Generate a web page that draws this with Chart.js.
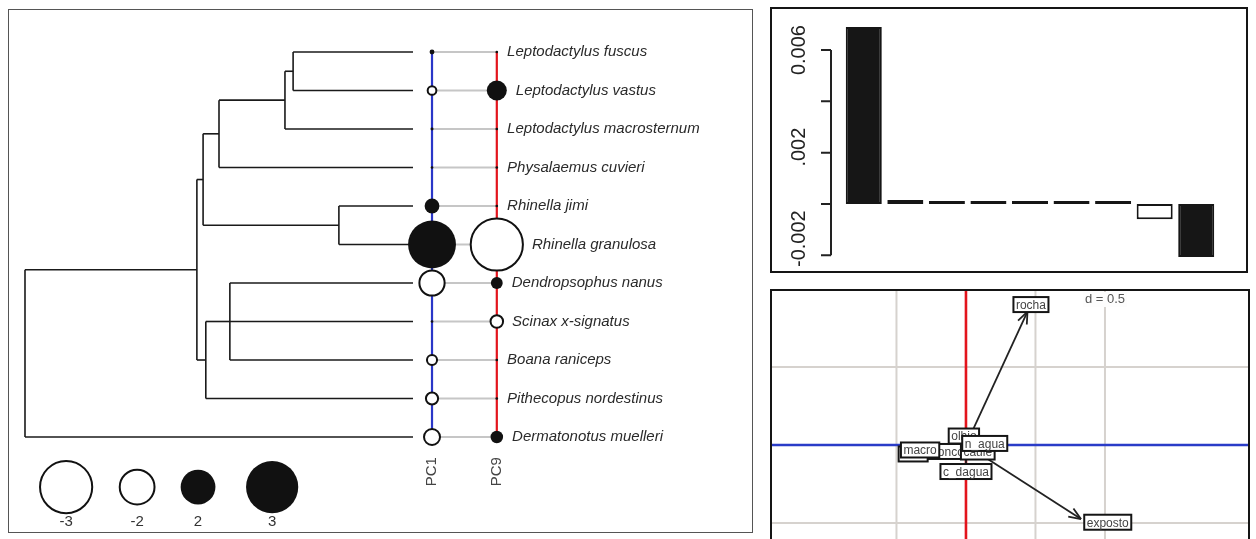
<!DOCTYPE html>
<html>
<head>
<meta charset="utf-8">
<script src="https://cdn.jsdelivr.net/npm/chart.js@4.4.0/dist/chart.umd.min.js"></script>
<style>
    body { margin: 0; width: 1256px; height: 539px; overflow: hidden; position: relative; background: #ffffff; font-family: "Liberation Sans", Arial, sans-serif; }
    canvas, .frame { position: absolute; }
    .frame { box-sizing: border-box; pointer-events: none; }
</style>
</head>
<body>
<canvas id="treeChart" width="744" height="523" style="left:8px; top:9px;"></canvas>
<div class="frame" style="left:8px; top:9px; width:745px; height:524px; border:1.5px solid #555;"></div>

<canvas id="eigenChart" width="476" height="264" style="left:771px; top:8px;"></canvas>
<div class="frame" style="left:770px; top:7px; width:478px; height:266px; border:2px solid #151515;"></div>

<canvas id="biplotChart" width="476" height="248" style="left:772px; top:291px;"></canvas>
<div class="frame" style="left:770px; top:289px; width:480px; height:280px; border:2px solid #151515;"></div>

<script>
// ---- phylogeny + trait bubbles ----
const tipNames = [
    "Leptodactylus fuscus", "Leptodactylus vastus", "Leptodactylus macrosternum",
    "Physalaemus cuvieri", "Rhinella jimi", "Rhinella granulosa", "Dendropsophus nanus",
    "Scinax x-signatus", "Boana raniceps", "Pithecopus nordestinus", "Dermatonotus muelleri"
];
// index of the internal node each tip hangs from
const tipParent = [0, 0, 1, 2, 3, 3, 5, 5, 5, 6, 8];
// internal nodes: depth (root = 0, tips = 1) and parent node
const nodeDepth = [0.691, 0.670, 0.5, 0.809, 0.459, 0.528, 0.466, 0.443, 0];
const nodeParent = [1, 2, 4, 4, 7, 6, 7, 8, -1];

const traitNames = ["PC1", "PC9"];
const pc1Values = [0.28, -0.5, 0.17, 0.15, 0.85, 2.75, -1.45, 0.15, -0.58, -0.7, -0.92];
const pc9Values = [0.05, 1.15, 0.15, 0.15, 0.12, -3.0, 0.68, -0.72, 0.14, 0.12, 0.72];
const traitColumnX = [1.049, 1.216];

const legendValues = [-3, -2, 2, 3];
const legendPositions = [0.106, 0.289, 0.446, 0.637];
const legendRow = 11.3;
const legendLabelRow = 12.2;
const traitLabelRow = 10.9;

// ---- eigenvalues ----
const eigenLabels = ["1", "2", "3", "4", "5", "6", "7", "8", "9"];
const eigenValues = [0.0069, 0.00015, 0.00002, 0.00002, 0.00001, 0.00001, 0.00001, -0.0006, -0.00207];
const selectedAxes = [1, 9];
const eigenTicks = [0.006, 0.004, 0.002, 0, -0.002];
const eigenTickLabels = ["0.006", "", ".002", "", "-0.002"];

// ---- correlation circle / arrows ----
const varNames = ["area", "tronco", "macro", "caule", "olhio", "n_agua", "c_dagua", "rocha", "exposto"];
const arrowX = [-0.76, -0.27, -0.66, 0.17, -0.03, 0.27, 0.0, 0.885, 1.655];
const arrowY = [-0.115, -0.083, -0.064, -0.09, 0.115, 0.02, -0.34, 1.71, -0.95];
const labelX = [-0.76, -0.27, -0.66, 0.17, -0.03, 0.27, 0.0, 0.935, 2.04];
const labelY = [-0.115, -0.083, -0.064, -0.09, 0.115, 0.02, -0.34, 1.8, -0.99];
const gridX = [-1, 0, 1, 2];
const gridY = [-1, 0, 1];
const gridStepLabel = "d = 0.5";

const bubbleScale = 8.7;
const bubbleRadius = (value) => Math.max(Math.abs(value) * bubbleScale, 1.3);

function childY(kind, index) {
    return kind === "tip" ? index : nodeSpan(index).mid;
}

function nodeSpan(node) {
    const ys = [];
    tipParent.forEach((p, i) => { if (p === node) ys.push(childY("tip", i)); });
    nodeParent.forEach((p, n) => { if (p === node) ys.push(childY("node", n)); });
    const top = Math.min(...ys);
    const bottom = Math.max(...ys);
    return { top, bottom, mid: (top + bottom) / 2 };
}

function segment(points, color, width, order) {
    return {
        data: points,
        showLine: true,
        borderColor: color,
        borderWidth: width,
        pointRadius: 0,
        order
    };
}

function buildTreeDatasets() {
    const sets = [];
    const branchColor = "#1a1a1a";

    tipNames.forEach((name, i) => {
        sets.push(segment([{ x: nodeDepth[tipParent[i]], y: i }, { x: 1, y: i }], branchColor, 1.6, 5));
    });

    nodeDepth.forEach((depth, n) => {
        const span = nodeSpan(n);
        sets.push(segment([{ x: depth, y: span.top }, { x: depth, y: span.bottom }], branchColor, 1.6, 5));
        if (nodeParent[n] >= 0) {
            sets.push(segment([{ x: nodeDepth[nodeParent[n]], y: span.mid }, { x: depth, y: span.mid }], branchColor, 1.6, 5));
        }
    });

    tipNames.forEach((name, i) => {
        sets.push(segment([{ x: traitColumnX[0], y: i }, { x: traitColumnX[1], y: i }], "#c6c6c6", 2, 4));
    });

    const lastTip = tipNames.length - 1;
    sets.push(segment([{ x: traitColumnX[0], y: 0 }, { x: traitColumnX[0], y: lastTip }], "#2a36c8", 2.2, 3));
    sets.push(segment([{ x: traitColumnX[1], y: 0 }, { x: traitColumnX[1], y: lastTip }], "#e3141c", 2.2, 3));

    return sets;
}

function bubbleDataset(values, xs, ys) {
    return {
        data: values.map((v, i) => ({ x: xs[i], y: ys[i] })),
        showLine: false,
        pointRadius: (ctx) => bubbleRadius(values[ctx.dataIndex]),
        pointBackgroundColor: (ctx) => values[ctx.dataIndex] > 0 ? "#111111" : "#ffffff",
        pointBorderColor: "#111111",
        pointBorderWidth: (ctx) => values[ctx.dataIndex] > 0 ? 0 : 2,
        order: 1
    };
}

const treeText = {
    id: "treeText",
    afterDatasetsDraw(chart) {
        const { ctx, scales: { x, y } } = chart;
        ctx.save();
        ctx.textBaseline = "middle";

        ctx.fillStyle = "#2a2a2a";
        ctx.font = "italic 15px 'Liberation Sans', Arial, sans-serif";
        tipNames.forEach((name, i) => {
            const left = x.getPixelForValue(traitColumnX[1]) + bubbleRadius(pc9Values[i]) + 9;
            ctx.fillText(name, left, y.getPixelForValue(i));
        });

        ctx.font = "15px 'Liberation Sans', Arial, sans-serif";
        ctx.fillStyle = "#444";
        ctx.textAlign = "center";
        traitNames.forEach((name, k) => {
            ctx.save();
            ctx.translate(x.getPixelForValue(traitColumnX[k]), y.getPixelForValue(traitLabelRow));
            ctx.rotate(-Math.PI / 2);
            ctx.fillText(name, 0, 0);
            ctx.restore();
        });

        ctx.fillStyle = "#333";
        legendValues.forEach((v, k) => {
            ctx.fillText(String(v), x.getPixelForValue(legendPositions[k]), y.getPixelForValue(legendLabelRow));
        });
        ctx.restore();
    }
};

const eigenAxis = {
    id: "eigenAxis",
    afterDatasetsDraw(chart) {
        const { ctx, chartArea, scales: { y } } = chart;
        const axisX = chartArea.left - 12;
        ctx.save();
        ctx.strokeStyle = "#222";
        ctx.lineWidth = 2;
        ctx.beginPath();
        ctx.moveTo(axisX, y.getPixelForValue(eigenTicks[0]));
        ctx.lineTo(axisX, y.getPixelForValue(eigenTicks[eigenTicks.length - 1]));
        eigenTicks.forEach((t) => {
            ctx.moveTo(axisX - 10, y.getPixelForValue(t));
            ctx.lineTo(axisX, y.getPixelForValue(t));
        });
        ctx.stroke();

        ctx.fillStyle = "#222";
        ctx.font = "20px 'Liberation Sans', Arial, sans-serif";
        ctx.textBaseline = "middle";
        ctx.textAlign = "right";
        const bottomLimit = chart.height - 5;
        eigenTicks.forEach((t, k) => {
            const label = eigenTickLabels[k];
            if (!label) {
                return;
            }
            const full = ctx.measureText(label.startsWith(".") ? "0" + label : label).width;
            const cy = Math.min(y.getPixelForValue(t), bottomLimit - full / 2);
            ctx.save();
            ctx.translate(axisX - 32, cy);
            ctx.rotate(-Math.PI / 2);
            ctx.fillText(label, full / 2, 0);
            ctx.restore();
        });
        ctx.restore();
    }
};

const biplotDecor = {
    id: "biplotDecor",
    beforeDatasetsDraw(chart) {
        const { ctx, chartArea, scales: { x, y } } = chart;
        ctx.save();
        ctx.strokeStyle = "#d6d2ce";
        ctx.lineWidth = 2;
        ctx.beginPath();
        gridX.forEach((g) => {
            const px = x.getPixelForValue(g);
            ctx.moveTo(px, chartArea.top);
            ctx.lineTo(px, chartArea.bottom);
        });
        gridY.forEach((g) => {
            const py = y.getPixelForValue(g);
            ctx.moveTo(chartArea.left, py);
            ctx.lineTo(chartArea.right, py);
        });
        ctx.stroke();
        ctx.restore();
    },
    afterDatasetsDraw(chart) {
        const { ctx, scales: { x, y } } = chart;
        ctx.save();

        // arrow heads
        ctx.strokeStyle = "#222";
        ctx.lineWidth = 1.8;
        const x0 = x.getPixelForValue(0);
        const y0 = y.getPixelForValue(0);
        varNames.forEach((name, i) => {
            const ex = x.getPixelForValue(arrowX[i]);
            const ey = y.getPixelForValue(arrowY[i]);
            if (Math.hypot(ex - x0, ey - y0) < 30) {
                return;
            }
            const angle = Math.atan2(ey - y0, ex - x0);
            ctx.beginPath();
            [-0.38, 0.38].forEach((spread) => {
                ctx.moveTo(ex, ey);
                ctx.lineTo(ex - 13 * Math.cos(angle + spread), ey - 13 * Math.sin(angle + spread));
            });
            ctx.stroke();
        });

        // grid step label
        ctx.font = "13px 'Liberation Sans', Arial, sans-serif";
        ctx.textAlign = "center";
        ctx.textBaseline = "middle";
        const stepX = x.getPixelForValue(gridX[gridX.length - 1]);
        const stepW = ctx.measureText(gridStepLabel).width;
        ctx.fillStyle = "#fdfdfd";
        ctx.fillRect(stepX - stepW / 2 - 2, 1, stepW + 4, 15);
        ctx.fillStyle = "#555";
        ctx.fillText(gridStepLabel, stepX, 8);

        // variable labels in boxes
        ctx.font = "12px 'Liberation Sans', Arial, sans-serif";
        varNames.forEach((name, i) => {
            const cx = x.getPixelForValue(labelX[i]);
            const cy = y.getPixelForValue(labelY[i]);
            const w = ctx.measureText(name).width + 5;
            const h = 15;
            ctx.fillStyle = "#ffffff";
            ctx.fillRect(cx - w / 2, cy - h / 2, w, h);
            ctx.strokeStyle = "#151515";
            ctx.lineWidth = 2;
            ctx.strokeRect(cx - w / 2, cy - h / 2, w, h);
            ctx.fillStyle = "#444";
            ctx.fillText(name, cx, cy + 1);
        });
        ctx.restore();
    }
};

const baseOptions = {
    responsive: false,
    animation: false,
    events: [],
    plugins: {
        legend: { display: false },
        tooltip: { enabled: false }
    }
};

function initializeTree() {
    const rows = tipNames.map((n, i) => i);
    new Chart(document.getElementById("treeChart"), {
        type: "scatter",
        data: {
            datasets: [
                ...buildTreeDatasets(),
                bubbleDataset(pc1Values, tipNames.map(() => traitColumnX[0]), rows),
                bubbleDataset(pc9Values, tipNames.map(() => traitColumnX[1]), rows),
                bubbleDataset(legendValues, legendPositions, legendValues.map(() => legendRow))
            ]
        },
        options: {
            ...baseOptions,
            layout: { padding: 0, autoPadding: false },
            scales: {
                x: { type: "linear", display: false, min: -0.0438, max: 1.8737 },
                y: { type: "linear", display: false, min: -1.1169, max: 12.4675, reverse: true }
            }
        },
        plugins: [treeText]
    });
}

function initializeEigenvalues() {
    new Chart(document.getElementById("eigenChart"), {
        type: "bar",
        data: {
            labels: eigenLabels,
            datasets: [{
                data: eigenValues,
                backgroundColor: eigenLabels.map((l) => selectedAxes.includes(Number(l)) ? "#161616" : "#ffffff"),
                borderColor: "#161616",
                borderWidth: 2,
                borderSkipped: false,
                minBarLength: 3,
                barPercentage: 0.867,
                categoryPercentage: 1
            }]
        },
        options: {
            ...baseOptions,
            layout: { padding: { left: 72, right: 30, top: 11.3, bottom: 6.5 }, autoPadding: false },
            scales: {
                x: { display: false },
                y: { display: false, min: -0.0024, max: 0.0072 }
            }
        },
        plugins: [eigenAxis]
    });
}

function initializeBiplot() {
    const xMin = -2.791;
    const xMax = 4.058;
    const yMin = -1.205;
    const yMax = 1.974;
    const sets = [
        segment([{ x: 0, y: yMin }, { x: 0, y: yMax }], "#e3141c", 2.6, 3),
        segment([{ x: xMin, y: 0 }, { x: xMax, y: 0 }], "#2a3cc8", 2.6, 3)
    ];
    varNames.forEach((name, i) => {
        sets.push(segment([{ x: 0, y: 0 }, { x: arrowX[i], y: arrowY[i] }], "#222", 1.8, 2));
    });

    new Chart(document.getElementById("biplotChart"), {
        type: "scatter",
        data: { datasets: sets },
        options: {
            ...baseOptions,
            layout: { padding: 0, autoPadding: false },
            scales: {
                x: { type: "linear", display: false, min: xMin, max: xMax },
                y: { type: "linear", display: false, min: yMin, max: yMax }
            }
        },
        plugins: [biplotDecor]
    });
}

initializeTree();
initializeEigenvalues();
initializeBiplot();
</script>
</body>
</html>
